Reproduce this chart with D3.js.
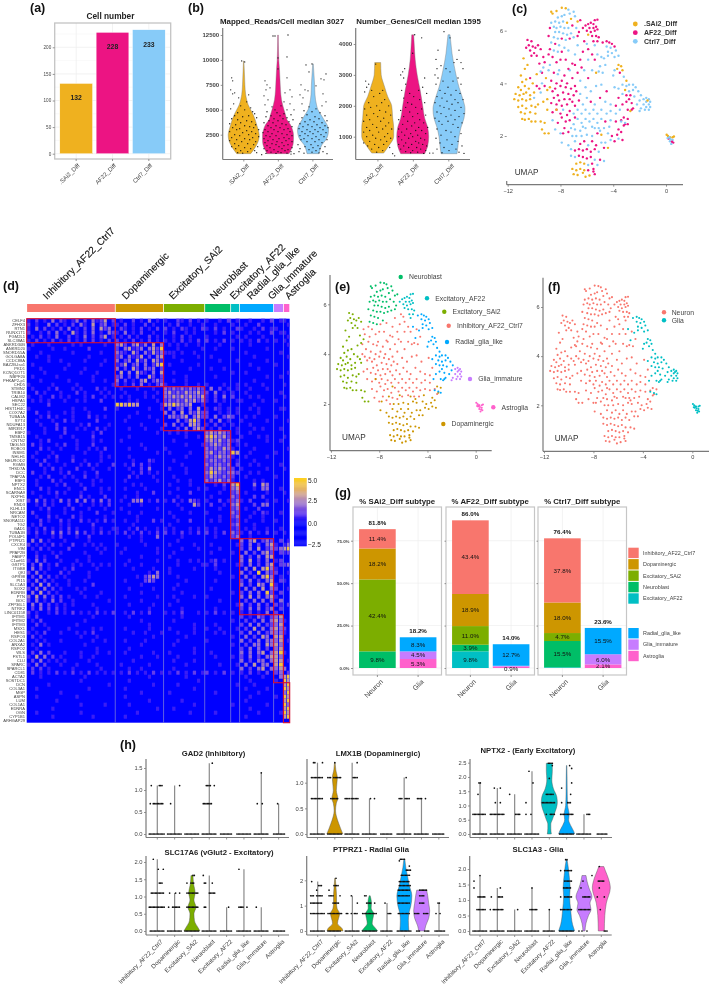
<!DOCTYPE html>
<html><head><meta charset="utf-8">
<script src="https://cdn.jsdelivr.net/npm/d3@7/dist/d3.min.js"></script>
<style>html,body{margin:0;padding:0;background:#fff}svg{display:block;filter:blur(.28px);font-family:"Liberation Sans",Arial,sans-serif}</style>
</head><body><svg id="c" width="709" height="988"><defs><filter id="soft" x="0" y="0" width="1" height="1"><feGaussianBlur stdDeviation="0.45"/></filter></defs></svg>
<script>
// ---------- shared categories ----------
const samples=[".SAi2_Diff","AF22_Diff","Ctrl7_Diff"];
const sampleColors=["#EFB11F","#EC1483","#87CBF8"];
const clusters=["Inhibitory_AF22_Ctrl7","Dopaminergic","Excitatory_SAi2","Neuroblast","Excitatory_AF22","Radial_glia_like","Glia_immature","Astroglia"];
const clusterColors=["#F8766D","#CD9600","#7CAE00","#00BE67","#00BFC4","#00A9FF","#C77CFF","#FF61CC"];
// ---------- (a) ----------
const cellNumbers=[132,228,233];
// ---------- (b) violin outlines: [value, half width] ----------
const readsShape=[
[[600,7],[1000,10],[1500,13],[2000,15],[2500,15.5],[3000,14.5],[3500,13],[4000,11.5],[4500,9.5],[5000,7],[5500,4.5],[6000,3],[6500,2],[7500,1.2],[8500,.8],[9900,.2]],
[[600,11],[1000,13],[1500,15],[2000,15.5],[2500,15.5],[3000,14.5],[3500,12.5],[4000,9],[4500,7.5],[5000,6],[6000,3.5],[7000,2.5],[8000,2],[9000,1.5],[10000,.8],[11000,.5],[12500,.3]],
[[600,6],[1000,7],[1500,9],[2000,13],[2500,15],[3000,15.5],[3500,14],[4000,11],[4500,8],[5000,5],[5500,3.5],[6500,2],[7500,1.6],[8500,1],[9600,.3]]];
const genesShape=[
[[470,6],[700,11],[1000,16],[1300,16],[1600,15],[2000,14],[2300,10],[2600,7],[2800,5],[3000,3.5],[3400,3]],
[[450,12],[700,15],[1000,16],[1300,15],[1600,12],[2000,10],[2500,7.5],[3000,4.5],[3500,2.5],[4000,1.5],[4300,1]],
[[450,8],[700,9],[1000,10],[1300,12],[1600,15],[1900,16],[2200,14],[2600,10],[3000,7],[3400,4.5],[3700,3],[4000,2],[4300,1]]];
// jittered cells: [px offset from violin centre, value]
const readsDotsS=[[-2,9900],[1,9800],[-12,8200],[-11,7900],[-13,7000],[-9,6700],[-11,6600],[5,6500],[-5,6200],[3,5800],[-10,5600],[-3,5400],[7,5200],[-13,5100],[1,5000],[9,4800],[-6,4700],[11,4600],[-9,4400],[5,4400],[-1,4300],[13,4200],[-12,4100],[-6,4000],[3,3900],[8,3800],[-3,3700],[-14,3600],[12,3500],[-8,3500],[1,3400],[6,3300],[-11,3200],[10,3200],[-4,3100],[15,3000],[-7,3000],[3,2900],[-14,2800],[8,2800],[-1,2700],[12,2600],[-9,2500],[5,2500],[-4,2400],[15,2300],[-12,2200],[9,2200],[1,2100],[-7,2000],[6,2000],[-14,1900],[12,1800],[-2,1800],[-9,1600],[4,1600],[10,1500],[-5,1400],[14,1300],[-12,1300],[1,1200],[7,1100],[-8,1100],[-3,900],[11,900],[4,800],[-6,700],[13,700],[18,500],[-1,650]];
const readsDotsA=[[-5,12400],[-3,12400],[10,12500],[0,10200],[9,10300],[0,9100],[-13,7900],[-11,7500],[9,8200],[-12,7000],[-8,7200],[12,7000],[-14,6400],[-10,6000],[14,6300],[7,6700],[-13,5500],[6,5800],[12,5600],[-6,5300],[3,5400],[16,5000],[-3,5000],[9,5000],[-11,4800],[-1,4700],[6,4600],[13,4500],[-7,4400],[2,4400],[-12,4300],[9,4200],[-4,4100],[5,4100],[15,4000],[-9,3900],[0,3900],[11,3800],[-14,3700],[-5,3700],[4,3600],[8,3500],[-10,3400],[-2,3400],[14,3300],[-7,3200],[2,3200],[10,3100],[-13,3000],[-4,3000],[6,3000],[-10,2800],[0,2800],[12,2800],[-15,2700],[-6,2600],[4,2600],[9,2500],[-12,2400],[-2,2400],[14,2400],[-8,2300],[6,2200],[1,2100],[-14,2100],[11,2100],[-5,2000],[8,1900],[-10,1900],[-1,1800],[14,1800],[-13,1700],[4,1700],[-6,1600],[10,1500],[-2,1500],[-11,1400],[6,1400],[1,1300],[14,1200],[-8,1200],[-14,1100],[4,1100],[10,1000],[-4,1000],[-11,900],[7,900],[0,800],[13,800],[-7,750],[3,700],[9,650],[-2,620],[16,600],[-12,620],[13,560]];
const readsDotsC=[[-1,9600],[-7,9500],[-4,8800],[13,8600],[8,8100],[11,8000],[-12,7500],[3,7400],[-8,7000],[-5,6900],[10,6600],[-13,6500],[-10,6200],[13,5800],[-11,5600],[9,5400],[-4,5300],[3,5100],[-9,4900],[-1,4800],[7,4700],[-6,4500],[12,4400],[2,4300],[-11,4200],[6,4100],[-3,4000],[14,3900],[-8,3800],[1,3800],[9,3700],[-13,3600],[-5,3500],[4,3500],[12,3400],[-10,3300],[-1,3300],[7,3200],[15,3200],[-14,3100],[-6,3000],[2,3000],[10,3000],[-11,2800],[-3,2800],[5,2800],[13,2700],[-8,2600],[0,2600],[8,2500],[-13,2400],[-5,2400],[3,2300],[11,2300],[-9,2100],[-1,2100],[6,2000],[-12,2000],[14,2000],[-6,1800],[2,1800],[9,1700],[-2,1500],[-15,1500],[5,1400],[-8,1300],[12,1300],[0,1200],[-13,1100],[7,1100],[-4,1000],[3,900],[-14,800],[10,800],[-1,750],[6,680],[-9,650],[14,600]];
const genesDotsS=[[-2,3350],[-12,2800],[-11,2600],[-9,2700],[5,2500],[-6,2500],[-13,2450],[2,2400],[-4,2300],[7,2200],[-9,2100],[4,2100],[-1,2000],[11,2000],[-7,1950],[-13,1900],[2,1850],[8,1800],[-4,1750],[13,1700],[-11,1700],[0,1650],[6,1600],[-8,1550],[-14,1500],[3,1500],[11,1450],[-5,1400],[8,1350],[-11,1300],[-1,1300],[14,1250],[5,1250],[-8,1200],[-14,1150],[1,1150],[10,1100],[-5,1050],[7,1000],[-11,1000],[-2,950],[13,950],[3,900],[-8,850],[9,850],[-14,800],[-3,750],[6,750],[-10,700],[1,650],[12,650],[-6,600],[5,550],[-1,500],[15,450],[17,380]];
const genesDotsA=[[2,4300],[9,4200],[0,3700],[-8,3200],[-10,3100],[-12,3000],[-9,2900],[12,2900],[-7,2700],[10,2600],[-11,2500],[6,2500],[14,2400],[-3,2400],[1,2300],[-9,2250],[7,2200],[-5,2100],[12,2100],[-1,2050],[3,1950],[-7,1950],[9,1900],[-12,1850],[-3,1800],[5,1750],[13,1700],[-9,1650],[0,1650],[-14,1550],[7,1550],[-5,1500],[2,1450],[11,1450],[-10,1400],[-1,1350],[6,1300],[15,1300],[-14,1250],[-6,1250],[3,1200],[9,1200],[-11,1150],[-2,1100],[13,1100],[5,1050],[-8,1050],[-14,1000],[0,1000],[8,950],[-4,950],[12,900],[-11,900],[3,850],[-7,800],[6,800],[-14,750],[-1,750],[10,750],[14,700],[-9,700],[4,650],[-4,650],[8,600],[-12,600],[0,550],[13,550],[-7,520],[5,500],[-2,480],[11,460],[17,470]];
const genesDotsC=[[-5,4400],[1,4200],[-11,3800],[10,3800],[-13,3500],[8,3500],[12,3400],[-12,3200],[-8,3300],[5,3400],[14,3200],[-14,3000],[-3,3200],[1,3100],[-11,2900],[9,2900],[-6,2800],[4,2800],[-13,2700],[12,2700],[-1,2600],[7,2500],[-9,2500],[-4,2400],[11,2400],[2,2350],[-12,2300],[-7,2250],[6,2200],[14,2200],[-2,2150],[-14,2100],[9,2100],[3,2050],[-9,2000],[12,1950],[-5,1950],[0,1900],[6,1850],[-12,1800],[-8,1750],[15,1750],[2,1700],[-3,1650],[10,1650],[-14,1600],[6,1550],[-10,1500],[-1,1500],[13,1450],[4,1400],[-7,1400],[9,1300],[-12,1250],[-3,1200],[2,1150],[12,1100],[-8,1050],[6,1000],[-13,950],[-2,900],[9,850],[-9,800],[3,750],[13,700],[-5,650],[7,600],[-12,600],[0,550],[10,500],[-7,480],[-16,470],[15,460]];
// ---------- UMAP cells by cluster: [x, y, sample index] ----------
const neuroblastPts=[[-7.9,6.87,0],[-7.6,6.85,0],[-7.4,6.8,2],[-8.3,6.75,0],[-8.6,6.65,0],[-8.7,6.72,0],[-7.7,6.6,2],[-7.3,6.65,2],[-7.0,6.72,2],[-6.9,6.55,2],[-8.2,6.5,2],[-7.9,6.55,2],[-7.2,6.45,0],[-8.4,6.35,2],[-8.7,6.3,2],[-8.1,6.3,2],[-7.8,6.35,2],[-7.5,6.3,0],[-6.7,6.35,0],[-6.5,6.4,1],[-8.8,6.1,1],[-8.5,6.15,2],[-8.3,6.1,2],[-8.0,6.15,2],[-7.7,6.1,2],[-7.4,6.1,2],[-7.1,6.2,1],[-6.8,6.1,2],[-8.4,5.95,2],[-8.1,5.95,2],[-7.8,5.9,2],[-7.5,5.85,2],[-7.2,5.9,2],[-6.6,5.95,1],[-8.9,5.8,1],[-8.5,5.75,2],[-8.2,5.7,2],[-7.9,5.7,1],[-7.6,5.65,2],[-7.3,5.7,1],[-8.7,5.55,2],[-8.4,5.5,1],[-8.1,5.45,2],[-8.8,5.3,1],[-8.5,5.25,2],[-8.2,5.2,2],[-7.0,5.75,2],[-6.7,5.8,1],[-7.7,5.35,2]];
const excAF22Pts=[[-5.9,6.25,1],[-5.7,6.3,1],[-5.4,6.4,1],[-5.2,6.42,1],[-6.1,6.2,1],[-5.8,6.1,1],[-5.5,6.25,1],[-5.3,6.15,1],[-6.0,6.0,1],[-5.7,5.95,1],[-5.4,6.0,1],[-5.2,6.05,1],[-5.6,5.8,1],[-5.3,5.8,1],[-5.1,5.75,1],[-5.5,5.6,1],[-5.4,5.45,2],[-6.3,6.1,1],[-5.9,5.85,0],[-5.2,5.6,1],[-5.5,6.1,1]];
const excSAi2Pts=[[-10.5,5.65,1],[-10.2,5.6,1],[-10.4,5.45,1],[-10.1,5.4,1],[-10.3,5.25,1],[-9.9,5.35,1],[-9.7,5.45,1],[-10.0,5.15,1],[-9.8,5.05,1],[-9.5,5.3,1],[-10.6,5.35,1],[-10.2,5.05,1],[-10.8,4.95,0],[-10.5,4.7,0],[-10.7,4.55,0],[-9.6,4.75,1],[-9.3,4.6,2],[-9.5,4.45,2],[-9.8,4.35,0],[-11.0,4.3,0],[-10.9,4.05,0],[-10.6,4.15,0],[-10.3,4.2,1],[-11.2,3.85,0],[-11.0,3.75,0],[-10.7,3.9,0],[-10.4,3.8,0],[-10.1,4.0,0],[-9.8,3.9,1],[-11.4,3.6,0],[-11.1,3.55,0],[-10.8,3.6,0],[-10.6,3.65,0],[-10.3,3.55,0],[-10.0,3.65,0],[-9.6,3.8,1],[-11.5,3.4,0],[-11.2,3.35,0],[-10.9,3.4,0],[-10.6,3.35,0],[-10.3,3.4,0],[-10.0,3.45,2],[-9.5,3.65,2],[-11.2,3.1,0],[-10.9,3.15,0],[-10.6,3.05,0],[-10.2,3.15,0],[-9.9,3.1,0],[-11.0,2.9,0],[-10.7,2.85,0],[-10.3,2.9,0],[-9.9,2.85,0],[-9.7,3.2,0],[-10.9,2.65,0],[-10.7,2.62,0],[-10.4,2.65,0],[-10.2,2.55,0],[-9.9,2.55,0],[-9.5,2.55,0],[-9.2,2.5,0],[-9.4,2.25,0],[-9.2,2.1,0],[-8.9,2.1,0]];
const inhibitoryPts=[[-9.3,5.0,1],[-9.2,4.8,1],[-8.9,5.1,1],[-8.8,4.7,2],[-8.6,5.0,1],[-8.3,4.8,1],[-8.0,4.9,1],[-7.9,5.2,1],[-7.6,4.9,1],[-7.4,5.25,2],[-7.1,4.75,1],[-6.9,5.1,2],[-6.7,5.45,2],[-6.5,4.9,1],[-6.3,5.2,1],[-6.0,5.5,2],[-5.9,4.9,2],[-5.6,5.1,1],[-6.2,5.6,1],[-9.4,4.4,1],[-9.1,4.2,0],[-8.9,4.5,2],[-8.7,4.1,1],[-8.5,4.4,1],[-8.3,4.0,1],[-8.1,4.5,2],[-7.9,4.1,1],[-7.7,4.3,1],[-7.5,4.0,1],[-7.3,4.5,2],[-7.1,4.2,1],[-6.9,3.9,1],[-6.7,4.4,1],[-6.5,4.1,2],[-6.2,4.5,2],[-5.9,4.2,1],[-5.6,4.5,2],[-5.3,4.4,0],[-5.1,4.45,2],[-4.8,4.4,2],[-9.2,3.9,1],[-9.0,3.75,0],[-8.8,3.85,0],[-8.6,3.7,1],[-8.4,3.8,1],[-8.2,3.55,1],[-8.0,3.9,1],[-7.8,3.65,1],[-7.6,3.85,1],[-7.4,3.6,1],[-7.2,3.8,1],[-7.0,3.55,1],[-6.8,3.7,1],[-6.5,3.6,2],[-6.1,3.85,2],[-5.7,3.7,2],[-5.3,3.9,2],[-9.3,3.3,0],[-9.0,3.4,0],[-8.7,3.25,1],[-8.5,3.45,1],[-8.3,3.2,1],[-8.1,3.35,1],[-7.9,3.15,1],[-7.7,3.4,1],[-7.5,3.2,1],[-7.3,3.4,1],[-7.1,3.3,1],[-6.9,3.15,1],[-6.6,3.35,1],[-6.3,3.2,2],[-6.0,3.45,2],[-5.7,3.3,1],[-5.4,3.2,2],[-5.0,3.45,1],[-4.6,3.3,2],[-4.2,3.2,2],[-3.8,3.15,1],[-9.0,3.0,0],[-8.6,2.9,1],[-8.3,3.0,1],[-8.0,2.85,1],[-7.8,3.0,2],[-7.5,2.8,1],[-7.3,2.95,1],[-7.0,2.85,2],[-6.7,3.0,2],[-6.4,2.85,2],[-6.1,3.0,2],[-5.8,2.85,2],[-5.5,3.0,2],[-5.2,2.85,2],[-4.9,3.0,2],[-4.5,2.85,2],[-4.2,2.95,2],[-3.8,2.85,2],[-8.6,2.6,2],[-8.2,2.5,1],[-7.9,2.7,1],[-7.6,2.55,1],[-7.3,2.6,1],[-7.0,2.45,2],[-6.7,2.65,2],[-6.4,2.5,2],[-6.1,2.65,2],[-5.8,2.55,2],[-5.5,2.65,2],[-5.2,2.5,2],[-4.9,2.65,2],[-4.6,2.55,1],[-4.2,2.6,2],[-3.8,2.55,1],[-3.4,2.6,1],[-3.2,2.4,1],[-8.4,2.25,2],[-8.0,2.1,2],[-7.7,2.3,1],[-7.4,2.15,1],[-6.9,2.25,2],[-6.5,2.2,2],[-6.1,2.3,2],[-5.6,2.35,2],[-5.1,2.3,2],[-4.7,2.3,2],[-9.4,4.0,2],[-7.4,4.55,1],[-6.9,4.7,1],[-6.4,4.6,1],[-5.9,5.3,1],[-5.4,4.9,1],[-4.9,5.0,2],[-4.6,4.7,2],[-8.2,4.35,2],[-4.9,3.95,2],[-4.5,3.7,1],[-3.9,3.85,2],[-7.1,2.0,2],[-3.6,3.45,1]];
const dopaminergicPts=[[-8.3,3.0,0],[-7.2,2.3,2],[-6.8,2.0,2],[-6.4,2.0,2],[-6.0,2.05,2],[-5.6,2.0,2],[-5.2,2.1,1],[-4.9,2.05,0],[-4.4,2.1,2],[-4.1,2.0,1],[-3.7,2.05,1],[-3.4,2.15,1],[-3.1,2.45,1],[-2.9,2.65,1],[-3.2,2.7,1],[-7.9,1.75,2],[-7.4,1.65,2],[-6.9,1.8,2],[-6.5,1.7,1],[-6.2,1.8,1],[-5.9,1.65,2],[-5.6,1.8,1],[-5.3,1.65,1],[-4.9,1.75,2],[-4.6,1.75,2],[-4.2,1.85,2],[-3.9,1.8,1],[-3.6,1.9,2],[-3.3,1.85,1],[-7.2,1.5,2],[-6.9,1.45,1],[-6.6,1.5,1],[-6.3,1.45,1],[-6.0,1.5,1],[-5.7,1.4,1],[-5.4,1.5,1],[-5.1,1.4,2],[-4.7,1.55,1],[-4.4,1.55,0],[-7.2,1.25,2],[-6.9,1.2,2],[-6.6,1.25,1],[-6.3,1.2,1],[-6.0,1.15,1],[-5.7,1.2,1],[-5.4,1.1,2],[-5.0,1.1,1],[-4.7,1.05,2],[-6.8,0.95,0],[-6.5,1.0,0],[-6.2,0.95,0],[-5.9,0.9,2],[-5.6,0.95,1],[-5.2,0.9,2],[-7.1,0.75,0],[-6.8,0.7,0],[-6.5,0.75,0],[-6.2,0.7,0],[-5.9,0.7,1],[-5.5,0.75,1],[-7.0,0.55,0],[-6.7,0.52,0],[-6.3,0.6,0],[-5.8,0.5,0],[-5.4,0.55,1],[-6.1,0.45,0],[-5.5,0.65,1],[-6.9,2.7,1],[-5.0,2.2,2],[-7.8,2.1,1],[-6.3,2.35,2],[-5.4,2.3,2],[-4.3,2.35,2],[-3.6,2.25,1]];
const radialPts=[[-4.8,5.55,1],[-4.5,5.6,1],[-4.3,5.55,1],[-4.1,5.5,1],[-4.5,5.4,2],[-4.2,5.35,2],[-3.9,5.4,1],[-3.8,5.25,2],[-4.1,5.15,2],[-4.4,5.2,2],[-3.6,5.05,2],[-3.9,5.0,2],[-4.7,4.95,2],[-3.6,4.7,0],[-3.4,4.65,0],[-3.7,4.55,0],[-3.3,4.5,0],[-3.5,4.4,1],[-3.2,4.25,2],[-3.0,4.1,0],[-3.3,3.95,2],[-3.0,3.9,2],[-2.8,3.95,2],[-2.5,3.95,2],[-2.3,3.85,2],[-2.1,3.7,2],[-3.1,3.75,0],[-2.8,3.7,2],[-2.5,3.75,2],[-3.3,3.6,2],[-3.0,3.55,1],[-2.7,3.55,1],[-2.4,3.5,2],[-2.8,3.4,1],[-3.0,3.3,1],[-2.6,3.25,1],[-3.3,3.2,1],[-2.6,3.0,1],[-2.9,3.0,1],[-2.7,2.95,0],[-2.5,3.05,1],[-2.2,3.2,2],[-2.0,3.35,2],[-1.9,3.55,2],[-3.5,3.0,2],[-3.4,2.55,2],[-3.1,2.5,2],[-2.9,2.45,1],[-4.4,5.05,2],[-3.9,4.5,2],[-4.0,4.3,2],[-5.0,4.65,2],[-5.2,5.1,2],[-3.6,3.8,2]];
const gliaImmPts=[[-1.7,3.4,2],[-1.5,3.45,2],[-1.3,3.4,2],[-1.2,3.3,2],[-1.5,3.3,2],[-1.7,3.2,2],[-1.3,3.2,2],[-1.2,3.1,2],[-1.5,3.1,2],[-1.9,3.05,2],[-1.6,3.0,2],[-1.3,3.0,2],[-1.4,3.35,0],[-2.0,2.95,2]];
const astrogliaPts=[[0.05,2.05,0],[0.15,2.0,0],[0.3,1.95,0],[0.6,1.98,0],[0.2,1.9,1],[0.35,1.88,2],[0.5,1.85,2],[0.3,1.8,2],[0.45,1.78,1],[0.55,1.75,1],[0.4,1.7,2],[0.25,1.95,2],[0.5,1.95,0],[0.12,1.92,2]];
const umapByCluster=[inhibitoryPts,dopaminergicPts,excSAi2Pts,neuroblastPts,excAF22Pts,radialPts,gliaImmPts,astrogliaPts];
// ---------- (d) heatmap ----------
const cellCounts=[198,108,92,58,20,76,22,14];
const geneCounts=[6,11,11,13,14,19,17,10];
const genes=["CELF4","ZFHX3","RTN1","RUNX1T1","PGM2L1","SLC38A1","ANKRD30B","ANKRD20","SNORD55A","GOLGA8A","CCDC88A","BAZ2B-Iso1","PKD1","KCNQ1OT1","NBPF20","PHKAP2-p1","CHD5","STMN2","TRIB10","CALM2","HSPA5","SEC22","HIST1H4C","COX7A2","TUBA1A","SYT4","NDUFA13","MIR3917","EBF2","TMSB15","CNTN2","TAGLN3","ROBO3","INSM1","NHLH1","NEUROD2","RGMB","THSD7A","DCC","TFAP2A","EBF3","NPTX2","ENC1","SCARNA9","NXPH1","XIST","RND3","KLHL13","NRCAM","NETO2","SNORA11D","TG2","GAD1","TUBA1B","POU4F1","PTPRZ1","CXCR4","VIM","PPAP2B","FABP7","C1orf61","GSTP1","ITGB8","QKI","GPR98","PI15","SLC1A3","SOX2","EDNRB","PTN","BOC","ZFP36L1","NTRK2","LINC01158","IFITM1","IFITM2","IFITM3","MSX1","HES1","RSPO3","COL2A1","ANXA2","RSPO2","WLS","FSTL1","CLU","SPARC","SPARCL1","CD81","ACTA2","SOSTDC1","DCN","COL3A1","MGP","ASPN","LUM","COL1A1","EDNRA","OGN","CYP1B1","ARHGAP29"];
// one string per gene; groups = clusters; . blue, 1-5 rising expression
const heatRows=[
"1.2.1.3.21.13.2.3124.2 .1..2.1.3.1. 1..21.2.1. 1..1.2 .1 ..1..1.2 .1 1.",
"2.1..3.2.1.2.31.4.23.1 1.2.1..2.1.. .1.2..1..1 ..1... 1. .1..2... .. .1",
"1.3.2.1.2.3.1.2.3.423. .21.1.2.1.2. 2.1.21.1.2 1.2.1. .2 1..1.2.1 1. ..",
"2..1.2.3.1.41.2.3.1.32 1.3.1.2..1.. 1.2..1.1.. ..1.2. 1. ..1.1..2 .1 1.",
".1.2.1.3..2.1.3.2.24.1 .1.2.1..2.1. ..1.2.1... 1..... .1 .1...1.. .. .1",
"1.2.1.2.1.2.1.2.2.1.2. 2.1.2.1.2.1. 1.1.2.1.2. 2.1.2. 1. 1.1.2.1. 1. 1.",
".1...1.....1.1.....1.. 342.3413.4.3 .1.1.1..1. ...1.. .. ..1..... .. .1",
"1.....1..1.....2...... 2.34123.3425 ...1.....1 ..1... 1. ......1. .. ..",
"...1.......1......1... 321.42.31423 111.1..1.. ...... .. .1...... .1 ..",
"..1..1.........1...... 23.3124.2.34 ..1.....1. .1.... .. ...1.... .. .1",
".....1..1.....1....1.. 3.23.413.431 ....1..... ...1.. .1 ......1. .. ..",
".1........1.......1... 124.23.3.245 .1......1. ...... .. ..1..... 1. ..",
"...1.....1....1....... 3.2.42.323.2 ......1... .1..1. .. ....1... .. ..",
"....1........1...1.... .4.3.421.3.4 ..1....... ...... 1. .1...... .. .1",
".1.....1........1..... 23.2.3..42.2 .....1.... ..1... .. ......1. .1 ..",
"...1......1.....1..1.. 3.2.1.34.232 ..1..1.... ...... .. ...1.... .. ..",
"1.....1.....1........1 2.1.2.3.1.23 1....1..1. 1...1. .1 .1...1.. .. 1.",
".1...1.2...1.1...2.1.. .1...1...1.. 3232323232 .3.2.1 .1 ..1...1. .. ..",
"..2.1...1...2.1...1.1. ..1....1..1. 3423243342 2.3.1. 1. .1...... .1 ..",
"1..1..2.1.1...1.2..1.1 .1.1...1.1.. 3343434334 1.2.3. 2. ..1.1... .. 1.",
".1.1.1...1..1.1...2... ...1.1....1. 2323243423 1.2.1. .1 1....1.. 1. ..",
".....2................ 554544.....1 4454334..1 ...1.. .. ...1.... .. ..",
"1..........1..1....2.. 1.......1..1 .3.23.3.4. 1.21.1 .1 ..1.1... .1 1.",
"..2..1...1.1...1...... .....1...... 3.3.4.3242 2..1.1 .1 ....1... .. ..",
"...1.2.1...1...2.1.1.. ...1....1... .33234.342 2.3.23 2. .1.1.... 1. ..",
"..1...1..2.1.....2.... ..1.......1. ...3.2453. .2.3.1 .. 1.....1. .. .1",
"...1...2.....1.2....1. ......1..... 2.3.2.443. 1.2.1. 1. ..1..... .. ..",
"....1..2.2..1.1..2.1.. ...1...1...1 ...2.3.342 .1.2.. .1 ...1.1.. .1 ..",
"1...1....2......1.2... ..........1. .1.1.1.... 343432 .1 ..1..... .. ..",
"..1.....1..1....2..... ...1........ .....1..1. 454342 .. 1...1.1. .. 1.",
"...1.2......1...1.1... .1.......... ..1....... 343423 12 ......1. .1 ..",
".2.1...1.2..1...2..... ......1..... .....1...1 234323 .1 .1...... .. ..",
"...2.1..1...1..1.1.2.. ...1...1.... 1......... 323243 1. ...1.... .. .1",
"..1...1.......1...1... ..........1. .1....1... 342332 54 ..1..... 1. ..",
".1...1.2...1......1.1. ...1........ .....1.... 323433 1. .1....1. .. ..",
"..1.2..1...2..1...1... ....1...21.. ..1....... 233232 .1 ...1.... .. ..",
"...2.1...1...1.2.1...2 ..1.2.2.1... ....1..... 323323 .2 ..1.1... .1 ..",
"....1.2.1...2...1...1. ...1..2.3... .1...1.... 243432 2. 1.....1. .. 1.",
".2..1...1.2...1..2.... ....1.2.1.1. .....1.... 354323 32 ..1.1... .. ..",
"...1.2...1.1..2..1.... ...2.1...1.. ..1....... 243232 2. .1...... 1. ..",
"..1...2.1...1...1.1... ..1.......1. ...1..1... 323423 1. ...1.1.. .. ..",
"..1....1.2...1..1..... ....1.1..... .1....1... ..1.2. 45 ...3.43. .. ..",
"...2.1....1...2...1.1. ..1....1.... ...1....1. 1...1. 34 ...1.33. .1 ..",
".1...1.2.1...1....1... .....1...2.. .1....2... ...1.. 23 .1....1. .. 1.",
"...1...1.....2.1...2.. ..1..1...... ...1...... .1.... 32 ...2.2.. .. ..",
"2.3.2.1.3.2.3.3.2.3.2. .1..334.1.2. 1.2.1.321. 1..2.1 23 1.2...1. 1. .1",
"..1.2.1...2..1..1.1.2. ...1..1..... ...1...42. .2..1. 34 ...2.33. .. ..",
"...1.2...1.2...1...1.. .1........1. ....1..... ...1.. 23 .1..2... .. ..",
".2...1...1...1...2...1 ...1..1..... .1....1... 1..... 32 ...1.21. .1 ..",
"..1..2.1...2.1.....1.. .....1...... ..1....... ...1.. 23 ..1..1.. .. ..",
"...2.1..2.1..2.1.1.2.1 ..1..1...2.1 ...1..2... .1.1.. 12 .1...1.. 1. ..",
".1.2....1.1.....2..... ....1....... .1........ ...... 23 ...1.... .. ..",
"1.1.2.1.1.2.1...1.1..1 1..1.2.1..1. 1.1...1.1. 1.1... 12 .1.1..1. .1 ..",
"1.2.1.3.3.2.3.2.1.2.1. 1.2.1.2.1.2. 2.1.2.1.2. 2.1.2. 32 1.2.1.2. 1. 1.",
"..1...1.2...1..2...... ...1..1...3. ....1..... ..1... 23 ..1..... .. ..",
".3.3.1...1.....1...... ......1..... ...1...... ...... .. 3.34.232 .2 .1",
"2.1.1.2.1..2..1.1.1... 1......1.... .1.....1.. .1.... .1 2.3.2.34 1. 13",
".1.2.1....2......1.1.. ..1.......1. ....1...1. ...1.. .. 2.3.4.23 23 45",
"..1...1.1.....1...1... .1........1. ..1....... .1.... 1. .3.2.342 .2 12",
"..2.1..2.......1...... ......1..... .1........ ...... .. 3.2.3.44 .. ..",
"1.3.2...1...1..1...... ...1......1. ...1..1.1. .12.1. .. 3.4.2.3. 12 ..",
".2.3.1.2...1.1..1.1.1. ..1...1..... ...1.....1 1.2... .1 2.3.2.34 .2 23",
".3.2.1...1.2.....1.... ....1....1.. .1.....1.. ..1... .. .3.4.453 1. ..",
"2.3.1...2.1....1...... ........1.3. .1........ ...1.. .. 3.2.5.32 2. .1",
".2.3.2.1.1.....1...... .....1.2343. ...1...... ...... 1. .3.2.453 .1 ..",
"1.3.2.1...1...1....... ..1....232.. .....1.... ..1... .. 2.3.2.34 .2 1.",
".2.4.3.1..1.....2..... ......1..... ...1...... ...... .. 3.2.43.5 1. ..",
"2.3.3.2.1...1.1....... ...1.....1.. ..1....... .1.... .. .3.3.4.3 2. .1",
".3.4.2.1.....1....1... ......1..... ....1..... ...... 1. 2.3.3.52 .2 ..",
"3.4.3.2.2.1...1..1.... ..1.......1. ..1....1.. 1..... .. 3.4.3.34 1. ..",
"2.3.1.3.2..1........1. ......1..... ...1...... ...1.. .. .2.3.3.3 .3 ..",
".3.3.2.1.1.1....1..... ...1.....1.. .1........ ...... .1 3.2.3.2. 21 .2",
".2.3.2.2.1.......1.... ........1... ....1..... ..1... .. 2.3.3.23 .2 ..",
"2.1..1.2.1.2.1.1.2.1.2 ..1.2.1.2... 1.1.2...1. 1.2.1. 1. 1.2.1.3. 2. ..",
"1.2.............1..... ...1........ ....1..... ...... .. 2.1.32.2 34 ..",
".1.2..........1....... ......1..... ..1....... ...... 1. .2.2.3.3 43 1.",
"..2.1.......1......... ........1... .......1.. ..1... .. 2.3.3.22 34 ..",
".1...1....1.....1.1... ..1.....1... .1.....1.. 1..1.. .1 .2.4.3.3 43 2.",
"1.1.2...1...1.1.2..... ....1..1...1 ...1...1.. ..1.1. .. 2.3.3.23 33 1.",
".2.1.........1...1.... .........1.. .....1.... ...... 1. .3.2.43. 44 ..",
"..1.1...1.......1..1.. ..1....1.... ...1...... 1..... .. 3.2.3.33 34 .1",
".1.3.1........1....... ......1..... ..1....... ...... 1. .2.33.43 43 ..",
"..1..............1.... ...1........ .......1.. ...... .. 2.3.3.2. 34 ..",
".2.3.2...1...1...1..1. ..1......1.. .1.....1.. .1.... .. 3.3.34.3 45 1.",
"1.4.3.2.1....1..1..... ......1...1. ...1...... ..1... 1. 2.3.2.34 43 ..",
".2.3.1.1.1.....1...... ....1....... ..1....1.. ...... .. 3.2.33.3 44 .1",
"1.3.2...1...1....1.... .1......1... .....1.... ...1.. .1 .3.4.33. 45 ..",
".2.2.1.....1......1... ...1..1..... ..1....... ...... .. 3.2.34.3 34 3.",
".2.1.1.2.1.2.1.2.1.1.1 .1.2.1.1.2.1 .1.2.1.2.1 2.1.2. 1. 1.2.1.2. 23 .2",
"...1..........1....... ........1... .....1.... ...... .. .1...1.. .3 45",
".............1........ ...1........ ........1. ...... .. ..1..... 1. 54",
".....1..............1. .........1.. ...1...... ...... .1 ...1.... .. 45",
"..1............1...... ..1......... .......1.. ...... .. .1....1. .. 54",
"........1............. ......1..... .1........ ..1... .. ....1... .. 35",
"..1.........1......... ..1......... .......... ...... .. ..1..... 1. 54",
".......1.............. ........1... ....1..... ...... .. .1...... .. 45",
".............1.....1.. ...1........ .......1.. ...... 1. ......1. .. 53",
"......1............... ..........1. ..1....... ...... .. ..1..... .. 45",
"..1..........1........ .....1...... ......1... ..1... .. ....1... .1 54",
"......1.........1..... ..1......... .......... ...... .. .1...... .. 45"];
const heatLegendTicks=[5,2.5,0,-2.5];
// ---------- (g) stacked subtype bars: totals and segments in stack order ----------
const gTitles=["% SAi2_Diff subtype","% AF22_Diff subtype","% Ctrl7_Diff subtype"];
const gLevels=["Neuron","Glia"];
const gTotals=[[81.8,18.2],[86.0,14.0],[76.4,23.6]];
const gStackNeuron=[
 [["Neuroblast",9.8],["Excitatory_SAi2",42.4],["Dopaminergic",18.2],["Inhibitory_AF22_Ctrl7",11.4]],
 [["Excitatory_AF22",9.8],["Neuroblast",3.9],["Excitatory_SAi2",11.0],["Dopaminergic",18.9],["Inhibitory_AF22_Ctrl7",43.4]],
 [["Excitatory_AF22",0.4],["Neuroblast",15.5],["Excitatory_SAi2",4.7],["Dopaminergic",18.0],["Inhibitory_AF22_Ctrl7",37.8]]];
const gStackGlia=[
 [["Astroglia",5.3],["Glia_immature",4.5],["Radial_glia_like",8.3]],
 [["Astroglia",0.9],["Glia_immature",0.4],["Radial_glia_like",12.7]],
 [["Astroglia",2.1],["Glia_immature",6.0],["Radial_glia_like",15.5]]];
// value-axis nudges of labels that sit clear of very thin segments
const gLabelNudge={"0.9":-1.1,"0.4":2.3};
const gTicks=[0,25,50,75];
const gLegendTop=["Inhibitory_AF22_Ctrl7","Dopaminergic","Excitatory_SAi2","Neuroblast","Excitatory_AF22"];
const gLegendBottom=["Radial_glia_like","Glia_immature","Astroglia"];
// ---------- (h) violins per gene: max value, optional outline, dot runs [value, from, to] ----------
const gad2V=[
{max:1.1,dots:[[0,-8,8],[.69,-7,-7],[.69,-4,6],[1.1,-6,-6],[1.1,2,5]]},
{max:1.1,dots:[[0,-7,7],[.69,-4,-4],[1.1,5,5]]},
{max:0,dots:[[0,-7,7]]},
{max:1.61,dots:[[0,-7,7],[.69,-6,3],[1.1,-3,1],[1.1,5,5],[1.61,3,3]]},
{max:0,dots:[[0,-6,5]]},{max:0,dots:[[0,-7,7]]},
{max:1.39,dots:[[0,-7,7],[.69,-4,-4],[.69,1,1],[1.39,0,0]]},
{max:.69,dots:[[0,-5,6],[.69,-1,-1]]}];
const lmx1bV=[
{max:1.39,dots:[[0,-7,7],[.69,-6,6],[1.1,-6,6],[1.39,-4,-2],[1.39,5,5]]},
{shape:[[0,8],[.2,4],[.35,1.5],[.45,.7],[.6,1.5],[.69,3],[.85,1.5],[1.1,2.5],[1.25,1],[1.39,.3]],dots:[[0,-7,7],[.69,-4,4],[1.1,-7,-4],[1.1,-1,6],[1.39,0,0]]},
{max:1.39,dots:[[0,-7,7],[.69,-7,-3],[.69,-1,6],[1.1,1,5],[1.39,5,5]]},
{max:.69,dots:[[0,-7,7],[.69,1,1],[.69,5,5]]},
{max:0,dots:[[0,-6,6]]},
{max:1.1,dots:[[0,-7,7],[.69,-5,-2],[.69,1,5],[1.1,2,2]]},
{max:.69,dots:[[0,-7,7],[.69,-4,0],[.69,4,4]]},
{max:0,dots:[[0,-6,6]]}];
const nptx2V=[
{max:1.79,dots:[[0,-7,7],[.69,-7,6],[1.39,-2,-2],[1.79,-1,1]]},
{max:1.61,dots:[[0,-7,7],[.69,-7,7],[1.1,-2,-1],[1.1,3,3],[1.61,-3,-3],[1.61,3,3]]},
{max:1.39,dots:[[0,-7,7],[.69,1,5],[1.39,-5,-5]]},
{max:2.2,dots:[[0,-7,7],[.69,-6,-6],[.69,-1,0],[1.1,-6,-6],[1.79,1,1],[2.2,-3,-3]]},
{shape:[[0,2],[.2,1.5],[.35,1.5],[.5,3],[.7,5],[1.1,8],[1.3,7.5],[1.6,4],[1.9,2.5],[2.2,3],[2.48,3]],dots:[[.69,-3,-3],[.69,1,5],[1.1,-7,6],[1.39,-3,5],[1.95,0,0],[2.48,-1,3],[2.4,3,3]]},
{shape:[[0,8],[.1,7],[.3,4],[.5,2],[.69,2.5],[1,1],[1.4,.6],[2,.4],[2.4,.2]],dots:[[0,-7,7],[.69,-6,7],[1.1,-5,-5],[1.1,1,4],[1.39,4,4],[1.61,-5,-5],[1.79,5,5],[2.3,5,5],[2.4,3,3]]},
{max:.69,dots:[[0,-7,7],[.69,3,6]]},
{max:0,dots:[[0,-4,6]]}];
const slc17a6V=[
{max:2.08,dots:[[0,-7,7],[.69,-8,7],[1.1,-6,7],[1.39,2,5],[1.79,1,1],[1.79,6,6],[2.08,-4,-4]]},
{max:1.1,dots:[[0,-7,7],[.69,-6,-6],[.69,-2,6],[1.1,-5,-4],[1.1,1,1],[1.1,5,5]]},
{shape:[[0,8],[.1,6],[.3,2.5],[.5,2],[.69,4],[.9,2],[1.1,3.2],[1.39,1.5],[1.61,1]],dots:[[0,-7,7],[.69,-5,6],[1.1,-5,6],[1.39,-5,-5],[1.39,-1,2],[1.61,1,3]]},
{max:1.61,dots:[[0,-7,7],[.69,-5,-3],[1.1,0,6],[1.39,-5,-3],[1.39,3,3],[1.61,-6,-6]]},
{max:.69,dots:[[0,-6,5],[.69,2,2]]},
{max:1.79,dots:[[0,-7,7],[.69,-5,-1],[.69,3,3],[1.79,-5,-5]]},
{max:.69,dots:[[0,-7,7],[.69,-5,-5]]},
{max:0,dots:[[0,-5,6]]}];
const ptprz1V=[
{max:1.95,dots:[[0,-7,7],[.69,-7,7],[1.1,-7,5],[1.39,-7,-4],[1.39,-1,5],[1.61,-1,-1],[1.79,1,4],[1.95,-6,-6]]},
{shape:[[0,8],[.1,7],[.3,2.5],[.69,4.5],[.9,2],[1.1,1.5],[1.39,1.5],[1.7,1],[2.08,.3]],dots:[[0,-7,6],[.69,-7,7],[1.1,-2,4],[1.39,-6,-1],[1.39,5,5],[1.61,-6,-6],[1.79,-1,4],[2.08,1,2]]},
{max:1.39,dots:[[0,-7,7],[.69,-6,-4],[.69,-1,-1],[.69,2,5],[1.1,5,5],[1.39,-1,-1]]},
{shape:[[0,8],[.1,6],[.3,2.5],[.69,4],[.9,1.5],[1.1,1.8],[1.39,.5]],dots:[[0,-7,7],[.69,-7,7],[1.1,-3,1],[1.1,5,5],[1.39,-5,-3]]},
{max:1.1,dots:[[0,-6,6],[.69,1,4],[1.1,-2,-1]]},
{shape:[[0,4.5],[.4,4],[.69,4.5],[1,6.5],[1.39,7.5],[1.79,5],[2.2,3],[2.5,1.5],[2.83,.5]],dots:[[0,-7,7],[.69,-6,6],[1.1,-6,6],[1.39,-6,6],[1.61,-6,6],[1.79,-5,7],[1.95,-5,5],[2.2,-3,6],[2.4,2,6],[2.56,5,5],[2.77,-5,-5],[2.83,-4,0]]},
{shape:[[0,3],[.2,4],[.5,7],[.8,8],[1.1,7],[1.4,6],[1.61,5]],dots:[[0,-5,-2],[0,3,7],[.69,-7,-2],[.69,2,7],[1.1,-2,2],[1.39,-2,2],[1.61,-2,6]]},
{max:1.1,dots:[[0,-4,6],[.69,-3,-2],[.69,1,1],[1.1,-1,1]]}];
const slc1a3V=[
{max:1.79,dots:[[0,-7,7],[.69,-3,6],[1.1,-2,6],[1.39,-6,-6],[1.61,-6,-6],[1.79,0,0]]},
{max:1.39,dots:[[0,-7,7],[.69,-7,-7],[.69,-4,6],[1.1,-6,-6],[1.1,1,6],[1.39,3,3]]},
{max:.69,dots:[[0,-7,7],[.69,3,3]]},
{max:1.39,dots:[[0,-7,7],[.69,-2,6],[1.39,0,0]]},
{max:.69,dots:[[0,-6,5],[.69,0,0]]},
{shape:[[0,8],[.2,6],[.69,4],[1.1,3],[1.39,3.5],[1.79,2.5],[2.08,1.5],[2.3,.4]],dots:[[0,-7,7],[.69,-6,6],[1.1,-6,-5],[1.1,-2,5],[1.39,-3,5],[1.61,-2,6],[1.95,-6,-6],[1.95,-2,5],[2.3,-1,1]]},
{shape:[[0,1],[.25,2],[.5,4.5],[.69,7],[.9,6],[1.1,8],[1.39,5],[1.61,3],[1.79,2]],dots:[[0,-5,-5],[0,-2,-1],[0,3,3],[.69,-5,6],[1.1,-1,6],[1.39,-3,-3],[1.61,-1,-1],[1.79,8,8]]},
{shape:[[0,3],[.5,3.5],[.9,5],[1.39,9],[1.7,7],[1.95,4],[2.08,2.5]],dots:[[0,3,6],[.69,-1,-1],[1.1,-4,-4],[1.1,3,3],[1.39,-2,-2],[1.61,-3,3],[2.08,-2,-2]]}];

// ---------- drawing ----------
const svg=d3.select("#c");
const ink="#222", axisGrey="#7a7a7a", tickText="#444";
function txt(x,y,s,o={}){const t=svg.append("text").attr("x",x).attr("y",y).text(s)
 .attr("font-size",o.size||7).attr("fill",o.fill||ink).attr("font-weight",o.weight||"normal").attr("text-anchor",o.anchor||"start");
 if(o.rot!=null)t.attr("transform",`rotate(${o.rot},${x},${y})`);return t;}
function styleAxis(g,size,color=tickText,weight="normal"){g.select(".domain").remove();
 g.selectAll("line").attr("stroke",axisGrey).attr("stroke-width",.8);
 g.selectAll("text").attr("font-size",size).attr("fill",color).attr("font-weight",weight).attr("font-family","Liberation Sans");}
function axisL(scale,x,vals,size,fmt=d3.format("d"),weight){const g=svg.append("g").attr("transform",`translate(${x},0)`)
 .call(d3.axisLeft(scale).tickValues(vals).tickSize(2).tickPadding(1.5).tickFormat(fmt));styleAxis(g,size,tickText,weight);return g;}
function axisB(scale,y,vals,size,fmt=d3.format("d"),weight){const g=svg.append("g").attr("transform",`translate(0,${y})`)
 .call(d3.axisBottom(scale).tickValues(vals).tickSize(2).tickPadding(2).tickFormat(fmt));styleAxis(g,size,tickText,weight);return g;}
function rotLabels(g,dy=3,dx=2){g.selectAll("text").attr("text-anchor","end").attr("dy",0)
 .attr("transform",`translate(${dx},${dy}) rotate(-45)`).attr("dominant-baseline","middle");}
function hline(x1,x2,y,c=axisGrey,w=1.2){svg.append("line").attr("x1",x1).attr("x2",x2).attr("y1",y).attr("y2",y).attr("stroke",c).attr("stroke-width",w);}
function vline(x,y1,y2,c=axisGrey,w=1.2){svg.append("line").attr("x1",x).attr("x2",x).attr("y1",y1).attr("y2",y2).attr("stroke",c).attr("stroke-width",w);}
const pl=(s,x,y)=>txt(x,y,s,{size:12.5,weight:"bold",fill:"#111"});
pl("(a)",30,12);pl("(b)",188,12);pl("(c)",512,13);pl("(d)",3,290);pl("(e)",335,291);pl("(f)",548,291);pl("(g)",335,497);pl("(h)",120,749);

// (a)
{const y=d3.scaleLinear().domain([0,200]).range([153.7,47.3]);
 const x=d3.scaleBand().domain(samples).range([58,167]).paddingInner(.1).paddingOuter(.05);
 const grid=svg.append("g");
 [0,25,50,75,100,125,150,175,200,225].forEach((v,i)=>grid.append("line").attr("x1",54.7).attr("x2",170.7).attr("y1",y(v)).attr("y2",y(v)).attr("stroke","#efefef").attr("stroke-width",i%2?.4:.8));
 samples.forEach(s=>grid.append("line").attr("x1",x(s)+x.bandwidth()/2).attr("x2",x(s)+x.bandwidth()/2).attr("y1",23).attr("y2",159).attr("stroke","#efefef").attr("stroke-width",.8));
 svg.selectAll(".abar").data(cellNumbers).join("rect").attr("x",(d,i)=>x(samples[i])).attr("width",x.bandwidth()).attr("y",d=>y(d)).attr("height",d=>y(0)-y(d)).attr("fill",(d,i)=>sampleColors[i]).attr("stroke","#fff").attr("stroke-width",.4);
 svg.append("rect").attr("x",54.7).attr("y",23).attr("width",116).attr("height",136).attr("fill","none").attr("stroke","#c4c4c4").attr("stroke-width",1.3);
 cellNumbers.forEach((d,i)=>txt(x(samples[i])+x.bandwidth()/2,y(d)+17,d,{size:6.8,weight:"bold",anchor:"middle"}));
 axisL(y,54.7,[0,50,100,150,200],4.6);
 rotLabels(axisB(x,159,samples,6,d=>d),3,0);
 txt(110.5,19,"Cell number",{size:8.3,weight:"bold",anchor:"middle"});
}
// (b)
function violinPanel(xs,axisX1,axisX2,y,shapes,dots,ticks,title,titleX){
 const step=xs[1]-xs[0];
 shapes.forEach((sh,i)=>{const cx=xs[i];
  svg.append("path").datum(sh).attr("d",d3.area().curve(d3.curveMonotoneY).x0(d=>cx-d[1]).x1(d=>cx+d[1]).y(d=>y(d[0])))
   .attr("fill",sampleColors[i]).attr("stroke","#777").attr("stroke-width",.4);
  svg.selectAll(null).data(dots[i]).join("circle").attr("cx",d=>cx+d[0]).attr("cy",d=>y(d[1])).attr("r",.65).attr("fill","#111");
 });
 hline(axisX1,axisX2,159.5);vline(axisX1,28,159.5);
 axisL(y,axisX1,ticks,6,d3.format("d"),"bold");
 const b=d3.scaleBand().domain(samples).range([xs[0]-step/2,xs[2]+step/2]);
 rotLabels(axisB(b,159.5,samples,6.2,d=>d));
 txt(titleX,24,title,{size:7.9,weight:"bold",anchor:"middle"});
}
violinPanel([243.7,278,313],222.7,333,d3.scaleLinear().domain([2500,12500]).range([134.7,35]),readsShape,[readsDotsS,readsDotsA,readsDotsC],[2500,5000,7500,10000,12500],"Mapped_Reads/Cell median 3027",282);
violinPanel([377.7,412.7,449],355.7,470,d3.scaleLinear().domain([1000,4000]).range([136.7,44]),genesShape,[genesDotsS,genesDotsA,genesDotsC],[1000,2000,3000,4000],"Number_Genes/Cell median 1595",418.5);
// UMAP panels
function umap(xR,yR,axisXEnd,bottom,top,colorOf,r,umapX,umapY){
 const x=d3.scaleLinear().domain([-12,0]).range(xR), y=d3.scaleLinear().domain([2,6]).range(yR);
 umapByCluster.forEach((pts,ci)=>svg.append("g").selectAll("circle").data(pts).join("circle")
  .attr("cx",d=>x(d[0])).attr("cy",d=>y(d[1])).attr("r",r).attr("fill",d=>colorOf(d,ci)));
 const x0=x(-12)-1;
 hline(x0,axisXEnd,bottom);vline(x0,top,bottom);
 axisL(y,x0,[2,4,6],5.6);axisB(x,bottom,[-12,-8,-4,0],5.6,d=>d<0?"\u2212"+(-d):d);
 txt(umapX,umapY,"UMAP",{size:8.2,fill:"#333"});
}
umap([507.7,666],[136,30.7],683,184.7,181,d=>sampleColors[d[2]],1.2,514.7,175);
umap([331,475.7],[404,304.3],491.7,450.7,275,(d,c)=>clusterColors[c],1.05,342,440);
umap([544,692.3],[405.3,307],709,451.3,277.7,(d,c)=>c>=5?"#00BFC4":"#F8766D",1.05,554.7,441);
// legends of UMAP panels
samples.forEach((s,i)=>{svg.append("circle").attr("cx",635.3).attr("cy",24+i*8.65).attr("r",2.4).attr("fill",sampleColors[i]);
 txt(644,26.4+i*8.65,s,{size:7,weight:"bold",fill:"#333"});});
[[400.7,277,3],[427,298.3,4],[444.3,311.7,2],[448.7,325.7,0],[447,342,5],[470,379,6],[493.3,407.3,7],[443.3,424,1]].forEach(([a,b,i])=>{
 svg.append("circle").attr("cx",a).attr("cy",b).attr("r",2.2).attr("fill",clusterColors[i]);
 txt(a+8.3,b+2.4,clusters[i],{size:6.8,fill:"#444"});});
[["Neuron","#F8766D",312.3],["Glia","#00BFC4",320.3]].forEach(([n,c,yy])=>{
 svg.append("circle").attr("cx",664).attr("cy",yy).attr("r",2.2).attr("fill",c);txt(671.7,yy+2.4,n,{size:6.8,fill:"#444"});});
// (d) heatmap
{const hx=d3.scaleLinear().domain([0,d3.sum(cellCounts)]).range([26.7,289.7]);
 const hy=d3.scaleBand().domain(genes).range([318.7,722.7]);
 const color=d3.scaleLinear().domain([-2.5,0,1,2.5,3.6,5]).range(["#0000ff","#0000ff","#5a30f0","#b088c0","#e0b070","#ffd21a"]);
 const level={".":-1,"1":.65,"2":1.2,"3":2.0,"4":2.9,"5":4.4};
 const edges=d3.cumsum([0,...cellCounts]);
 const heatG=svg.append("g").attr("filter","url(#soft)");
 heatG.append("rect").attr("x",hx(0)).attr("y",318.7).attr("width",hx(edges[8])-hx(0)).attr("height",404).attr("fill",color(-1));
 heatRows.forEach((row,ri)=>{const groups=row.split(" ");
  groups.forEach((str,gi)=>{const xb=d3.scaleBand().domain(d3.range(str.length)).range([hx(edges[gi]),hx(edges[gi+1])]);
   [...str].forEach((ch,ci)=>{if(ch===".")return;
    heatG.append("rect").attr("x",xb(ci)+xb.bandwidth()*.1).attr("y",hy(genes[ri])).attr("width",xb.bandwidth()*.8).attr("height",hy.bandwidth()).attr("fill",color(level[ch]));});
  });});
 edges.slice(1,8).forEach(e=>vline(hx(e),318.7,722.7,"#7676dc",.8));
 // annotation bar, rotated names
 const nameStart=[47,126,173,214,234,251,272,289];
 clusters.forEach((c,i)=>{svg.append("rect").attr("x",hx(edges[i])+.4).attr("width",hx(edges[i+1])-hx(edges[i])-.8).attr("y",304).attr("height",8).attr("fill",clusterColors[i]);
  txt(nameStart[i],300,c,{size:10,rot:-45,fill:"#111"}).attr("stroke","#111").attr("stroke-width",.12);});
 // red diagonal boxes
 const ge=d3.cumsum([0,...geneCounts]);
 clusters.forEach((c,i)=>svg.append("rect").attr("x",hx(edges[i])).attr("width",hx(edges[i+1])-hx(edges[i])).attr("y",318.7+hy.step()*ge[i]).attr("height",hy.step()*geneCounts[i]).attr("fill","none").attr("stroke","#d81030").attr("stroke-width",1.1));
 // gene labels
 genes.forEach(g=>txt(25,hy(g)+hy.bandwidth()/2+1.5,g,{size:4.1,anchor:"end",fill:"#444"}));
 // colour key
 const ly=d3.scaleLinear().domain([-2.5,5]).range([546,478]);
 svg.selectAll(null).data(d3.range(-2.5,5,.1)).join("rect").attr("x",294).attr("width",12.7).attr("y",d=>ly(d+.1)).attr("height",d=>ly(d)-ly(d+.1)+.3).attr("fill",d=>color(d));
 heatLegendTicks.forEach(t=>txt(308,ly(t)+(t===5?5:t===-2.5?1:2.3),d3.format(".1f")(t).replace("-","\u2212"),{size:6.6,fill:"#222"}));
}
// (g)
{const y=d3.scaleLinear().domain([0,75]).range([668,540.7]);
 const frames=[353,446,538], fw=88.5;
 const colorOf=n=>clusterColors[clusters.indexOf(n)];
 gTitles.forEach((t,fi)=>{const fx=frames[fi];
  const x=d3.scaleBand().domain(gLevels).range([fx+2,fx+fw-1]).paddingInner(.1).paddingOuter(.1);
  gTicks.forEach(v=>svg.append("line").attr("x1",fx).attr("x2",fx+fw).attr("y1",y(v)).attr("y2",y(v)).attr("stroke","#eee").attr("stroke-width",.7));
  gLevels.forEach(l=>svg.append("line").attr("x1",x(l)+x.bandwidth()/2).attr("x2",x(l)+x.bandwidth()/2).attr("y1",507).attr("y2",675).attr("stroke","#eee").attr("stroke-width",.7));
  [gStackNeuron[fi],gStackGlia[fi]].forEach((stack,li)=>{const lv=gLevels[li];let base=0;const cx=x(lv)+x.bandwidth()/2;
   stack.forEach(([n,v])=>{svg.append("rect").attr("x",x(lv)).attr("width",x.bandwidth()).attr("y",y(base+v)).attr("height",y(base)-y(base+v)).attr("fill",colorOf(n));
    const nudge=gLabelNudge[String(v)]||0;
    txt(cx,y(base+v/2+nudge)+2.2,d3.format(".1f")(v)+"%",{size:6.2,anchor:"middle",fill:"#111"});
    base+=v;});
   txt(cx,y(base)-4,d3.format(".1f")(gTotals[fi][li])+"%",{size:6.2,anchor:"middle",fill:"#111",weight:"bold"});
  });
  svg.append("rect").attr("x",fx).attr("y",507).attr("width",fw).attr("height",168).attr("fill","none").attr("stroke","#c6c6c6").attr("stroke-width",1.2);
  if(fi===0)axisL(y,fx,gTicks,4.4,d=>d3.format(".1f")(d)+"%","bold");
  else svg.append("g").attr("transform",`translate(${fx},0)`).call(d3.axisLeft(y).tickValues(gTicks).tickSize(1.5).tickFormat("")).call(g=>styleAxis(g,4));
  rotLabels(axisB(x,675,gLevels,7,d=>d),3,2);
  txt(fx+fw/2,504,t,{size:7.8,weight:"bold",anchor:"middle"});
 });
 const leg=(names,y0)=>names.forEach((n,i)=>{svg.append("rect").attr("x",628.3).attr("y",y0+i*11.4).attr("width",10.4).attr("height",10.4).attr("fill",colorOf(n));
  txt(643,y0+i*11.4+7,n,{size:5.4,fill:"#444"});});
 leg(gLegendTop,547.7);leg(gLegendBottom,628);
}
// (h)
function genePanel(title,titleX,titleY,x0,x1,firstC,y,top,bottom,ticks,spec,labels,fmt){
 const band=d3.scaleBand().domain(clusters).range([firstC-8.67,firstC+7.5*17.33]);
 spec.forEach((v,i)=>{const cx=band(clusters[i])+band.bandwidth()/2;
  if(v.shape){svg.append("path").datum(v.shape).attr("d",d3.area().curve(d3.curveMonotoneY).x0(d=>cx-d[1]).x1(d=>cx+d[1]).y(d=>y(d[0])))
    .attr("fill",clusterColors[i]).attr("stroke","#555").attr("stroke-width",.45);}
  else if(v.max>0){vline(cx,y(0),y(v.max),"#8a8a8a",1.2);}
  v.dots.forEach(([val,a,b])=>{svg.append("g").selectAll("circle").data(d3.range(a,b+.1,1.35)).join("circle")
    .attr("cx",d=>cx+d).attr("cy",y(val)).attr("r",.85).attr("fill","#111");});
 });
 hline(x0,x1,bottom);vline(x0,top,bottom);
 axisL(y,x0,ticks,5.8,fmt||d3.format(".1f"));
 const ax=axisB(band,bottom,clusters,6.2,d=>labels?d:"");
 if(labels)rotLabels(ax,3,2);
 txt(titleX,titleY,title,{size:7.7,weight:"bold",anchor:"middle"});
}
genePanel("GAD2 (Inhibitory)",213.5,756,146,289,157.3,d3.scaleLinear().domain([0,1.5]).range([834,768]),759,837.5,[0,.5,1,1.5],gad2V,false);
genePanel("LMX1B (Dopaminergic)",378,756,307,449,317.5,d3.scaleLinear().domain([0,1]).range([834,782.7]),759,837.5,[0,.5,1],lmx1bV,false);
genePanel("NPTX2 - (Early Excitatory)",528,753,470,612,480,d3.scaleLinear().domain([0,2.5]).range([834,762.7]),759,837.5,[0,.5,1,1.5,2,2.5],nptx2V,false);
genePanel("SLC17A6 (vGlut2 - Excitatory)",219,854.5,146,289,157.3,d3.scaleLinear().domain([0,2]).range([931,862]),856,935,[0,.5,1,1.5,2],slc17a6V,true);
genePanel("PTPRZ1 - Radial Glia",371,852,306.7,449,317.7,d3.scaleLinear().domain([0,2]).range([931,880.3]),856,935,[0,1,2],ptprz1V,true,d3.format("d"));
genePanel("SLC1A3 - Glia",538,852,469.7,611.7,480,d3.scaleLinear().domain([0,2]).range([931,869]),856,935,[0,.5,1,1.5,2],slc1a3V,true);
</script></body></html>
